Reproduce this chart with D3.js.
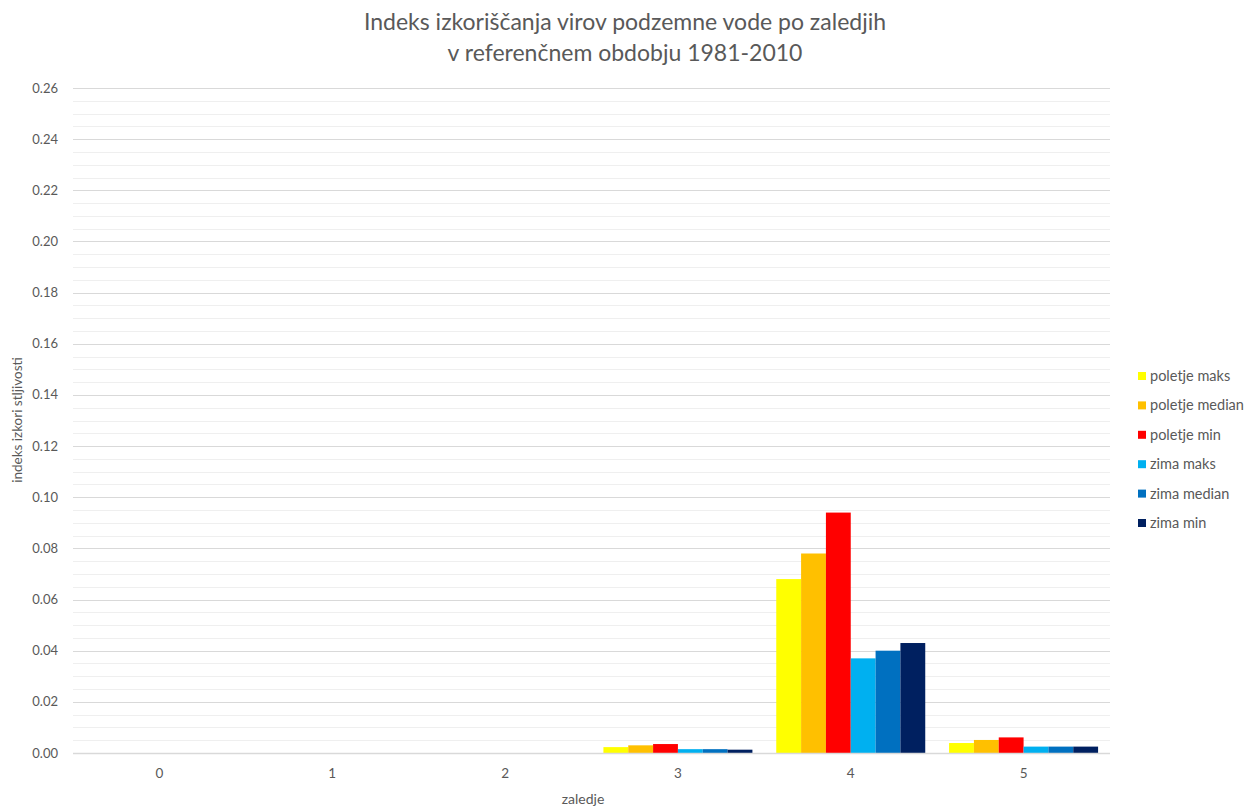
<!DOCTYPE html>
<html>
<head>
<meta charset="utf-8">
<script src="https://cdn.jsdelivr.net/npm/d3@7"></script>
<style>
  body { margin: 0; background: #fff; }
  svg { display: block; font-family: Lato, "Open Sans", sans-serif; }
</style>
</head>
<body>
<svg id="chart" width="1254" height="807"></svg>
<script>
// Catchment categories on the x axis
const categories = ["0", "1", "2", "3", "4", "5"];
// Series (season + statistic)
const seriesNames = ["poletje maks", "poletje median", "poletje min", "zima maks", "zima median", "zima min"];
const seriesColors = ["#ffff00", "#ffc000", "#ff0000", "#00b0f0", "#0070c0", "#002060"];
// Values per series, one per catchment
const poletjeMaks   = [0, 0, 0, 0.0023, 0.068, 0.0039];
const poletjeMedian = [0, 0, 0, 0.0030, 0.078, 0.0051];
const poletjeMin    = [0, 0, 0, 0.0035, 0.094, 0.0061];
const zimaMaks      = [0, 0, 0, 0.0015, 0.037, 0.0025];
const zimaMedian    = [0, 0, 0, 0.0015, 0.040, 0.0025];
const zimaMin       = [0, 0, 0, 0.0013, 0.043, 0.0025];
const seriesValues = [poletjeMaks, poletjeMedian, poletjeMin, zimaMaks, zimaMedian, zimaMin];
// Y axis ticks
const yTicks = [0, 0.02, 0.04, 0.06, 0.08, 0.10, 0.12, 0.14, 0.16, 0.18, 0.20, 0.22, 0.24, 0.26];

const titleLines = ["Indeks izkoriščanja virov podzemne vode po zaledjih", "v referenčnem obdobju 1981-2010"];

const svg = d3.select("#chart");
const margin = { left: 73, right: 1110, top: 88, bottom: 753 };

const x0 = d3.scaleBand().domain(categories).range([margin.left, margin.right]).padding(0);
const x1 = d3.scaleBand().domain(seriesNames)
  .range([0, x0.bandwidth()]).paddingOuter(0.48).paddingInner(0);
const y = d3.scaleLinear().domain([0, 0.26]).range([margin.bottom, margin.top]);

// Minor gridlines every 0.005
const minor = d3.range(0, 0.2601, 0.005).filter(v => Math.abs(Math.round(v / 0.02) * 0.02 - v) > 1e-6);
svg.append("g").selectAll("line").data(minor).join("line")
  .attr("x1", margin.left).attr("x2", margin.right)
  .attr("y1", d => Math.round(y(d)) + 0.5).attr("y2", d => Math.round(y(d)) + 0.5)
  .attr("stroke", "#efefef").attr("stroke-width", 1);

// Major gridlines
svg.append("g").selectAll("line").data(yTicks).join("line")
  .attr("x1", margin.left).attr("x2", margin.right)
  .attr("y1", d => Math.round(y(d)) + 0.5).attr("y2", d => Math.round(y(d)) + 0.5)
  .attr("stroke", "#d9d9d9").attr("stroke-width", 1);

// Y tick labels
svg.append("g").selectAll("text").data(yTicks).join("text")
  .attr("x", 58).attr("y", d => y(d))
  .attr("dy", "0.35em").attr("text-anchor", "end")
  .attr("font-size", 13).attr("fill", "#595959")
  .text(d => d3.format(".2f")(d));

// Bars
const groups = svg.append("g").selectAll("g").data(categories).join("g")
  .attr("transform", d => `translate(${x0(d)},0)`);
groups.selectAll("rect")
  .data((c, i) => seriesNames.map((s, k) => ({ s, k, v: seriesValues[k][i] })))
  .join("rect")
  .filter(d => d.v > 0)
  .attr("x", d => x1(d.s))
  .attr("width", x1.bandwidth())
  .attr("y", d => y(d.v))
  .attr("height", d => y(0) - y(d.v))
  .attr("fill", d => seriesColors[d.k]);

// Baseline
svg.append("line")
  .attr("x1", margin.left).attr("x2", margin.right)
  .attr("y1", Math.round(y(0)) + 0.5).attr("y2", Math.round(y(0)) + 0.5)
  .attr("stroke", "#d9d9d9").attr("stroke-width", 1.5);

// X tick labels
svg.append("g").selectAll("text").data(categories).join("text")
  .attr("x", d => x0(d) + x0.bandwidth() / 2).attr("y", 778)
  .attr("text-anchor", "middle").attr("font-size", 13.5).attr("fill", "#595959")
  .text(d => d);

// Axis titles
svg.append("text").attr("x", 583).attr("y", 804)
  .attr("text-anchor", "middle").attr("font-size", 14).attr("fill", "#595959")
  .text("zaledje");
svg.append("text")
  .attr("transform", "translate(22,420) rotate(-90)")
  .attr("text-anchor", "middle").attr("font-size", 13.5).attr("fill", "#595959")
  .text("indeks izkori stljivosti");

// Title
svg.append("g").selectAll("text").data(titleLines).join("text")
  .attr("x", 625).attr("y", (d, i) => 30 + i * 31)
  .attr("text-anchor", "middle").attr("font-size", 23).attr("fill", "#595959")
  .text(d => d);

// Legend
const legend = svg.append("g").selectAll("g").data(seriesNames).join("g")
  .attr("transform", (d, i) => `translate(1138,${376 + i * 29.4})`);
legend.append("rect").attr("x", 0).attr("y", -4).attr("width", 8).attr("height", 8)
  .attr("fill", (d, i) => seriesColors[i]);
legend.append("text").attr("x", 12).attr("y", 0).attr("dy", "0.35em")
  .attr("font-size", 14.5).attr("fill", "#595959").text(d => d);
</script>
</body>
</html>
